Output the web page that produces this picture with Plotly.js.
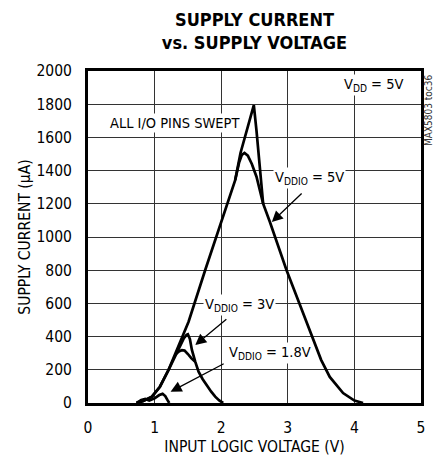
<!DOCTYPE html>
<html>
<head>
<meta charset="utf-8">
<script src="https://cdn.plot.ly/plotly-3.0.1.min.js"></script>
<style>html,body{margin:0;padding:0;background:#fff;}#chart{width:433px;height:463px;}</style>
</head>
<body>
<div id="chart"></div>
<script>
// VDDIO = 5V, outer (tall spike) sweep
var v5OuterX = [0.73, 0.83, 0.96, 1.08, 1.21, 1.36, 1.51, 1.76, 2.0, 2.21, 2.29, 2.39, 2.49, 2.53, 2.56, 2.6, 2.63, 2.73, 2.98, 3.18, 3.31, 3.36, 3.5, 3.63, 3.83, 4.0, 4.13];
var v5OuterY = [0, 12, 38, 98, 200, 340, 490, 801, 1090, 1343, 1506, 1650, 1795, 1640, 1500, 1330, 1200, 1092, 801, 594, 460, 398, 260, 157, 60, 15, 0];
// VDDIO = 5V, inner (rounded peak) sweep
var v5InnerX = [2.21, 2.27, 2.31, 2.35, 2.4, 2.46, 2.53, 2.58, 2.63];
var v5InnerY = [1343, 1450, 1495, 1506, 1490, 1440, 1363, 1290, 1200];
// VDDIO = 3V, spike sweep
var v3aX = [0.73, 0.83, 0.96, 1.08, 1.21, 1.36, 1.44, 1.48, 1.50, 1.53, 1.56, 1.61, 1.66, 1.72, 1.78, 1.85, 1.91, 1.97, 2.03];
var v3aY = [0, 12, 38, 98, 200, 330, 390, 410, 414, 385, 320, 249, 189, 145, 108, 68, 38, 15, 0];
// VDDIO = 3V, inner sweep
var v3bX = [1.32, 1.37, 1.41, 1.45, 1.50, 1.55, 1.61];
var v3bY = [295, 312, 318, 316, 295, 270, 249];
// VDDIO = 1.8V
var v18X = [0.73, 0.80, 0.86, 0.92, 1.0, 1.07, 1.12, 1.16, 1.19, 1.22];
var v18Y = [0, 18, 24, 15, 28, 48, 55, 42, 20, 0];

var xTicks = [0, 1, 2, 3, 4, 5];
var yTicks = [0, 200, 400, 600, 800, 1000, 1200, 1400, 1600, 1800, 2000];

var FONT = "'DejaVu Sans Condensed', 'Liberation Sans Narrow', sans-serif";
var lineStyle = {color: '#000', width: 2.7};

var traces = [
  {x: v5OuterX, y: v5OuterY, mode: 'lines', line: lineStyle, hoverinfo: 'skip'},
  {x: v5InnerX, y: v5InnerY, mode: 'lines', line: lineStyle, hoverinfo: 'skip'},
  {x: v3aX, y: v3aY, mode: 'lines', line: lineStyle, hoverinfo: 'skip'},
  {x: v3bX, y: v3bY, mode: 'lines', line: lineStyle, hoverinfo: 'skip'},
  {x: v18X, y: v18Y, mode: 'lines', line: lineStyle, hoverinfo: 'skip'}
];

function label(text, x, y) {
  return {text: text, x: x, y: y, xref: 'x', yref: 'y', showarrow: false,
          bgcolor: '#fff', borderpad: 1, font: {family: FONT, size: 14.5, color: '#000'}};
}
function arrow(tx, ty, hx, hy) {
  return {text: '', x: hx, y: hy, ax: tx, ay: ty, xref: 'x', yref: 'y', axref: 'x', ayref: 'y',
          showarrow: true, arrowhead: 2, arrowsize: 1.7, arrowwidth: 1.3, arrowcolor: '#000', standoff: 0};
}

var layout = {
  width: 433, height: 463,
  margin: {l: 88, r: 12, t: 71, b: 60},
  paper_bgcolor: '#fff', plot_bgcolor: '#fff',
  showlegend: false,
  font: {family: FONT, size: 15.5, color: '#000'},
  title: {
    text: 'SUPPLY CURRENT<br>vs. SUPPLY VOLTAGE',
    font: {family: FONT, size: 18, color: '#000', weight: 700},
    x: 0.5, xref: 'paper', xanchor: 'center',
    y: 1, yref: 'paper', yanchor: 'bottom',
    pad: {b: 45}
  },
  xaxis: {
    range: [0, 5], tickvals: xTicks, ticktext: xTicks.map(String),
    showgrid: true, gridcolor: '#333', gridwidth: 1, zeroline: false,
    showline: true, mirror: true, linecolor: '#000', linewidth: 3,
    ticks: '', ticklabelstandoff: 8,
    tickfont: {family: FONT, size: 15.5, color: '#000'},
    title: {text: 'INPUT LOGIC VOLTAGE (V)', font: {family: FONT, size: 15.5, color: '#000'}, standoff: 6}
  },
  yaxis: {
    range: [0, 2000], tickvals: yTicks, ticktext: yTicks.map(String),
    showgrid: true, gridcolor: '#333', gridwidth: 1, zeroline: false,
    showline: true, mirror: true, linecolor: '#000', linewidth: 3,
    ticks: '', ticklabelstandoff: 10,
    tickfont: {family: FONT, size: 15.5, color: '#000'},
    title: {text: 'SUPPLY CURRENT (µA)', font: {family: FONT, size: 15.5, color: '#000'}, standoff: 2}
  },
  annotations: [
    label('V<sub>DD</sub> = 5V', 4.29, 1916),
    label('ALL I/O PINS SWEPT', 1.31, 1687),
    label('V<sub>DDIO</sub> = 5V', 3.33, 1355),
    label('V<sub>DDIO</sub> = 3V', 2.28, 590),
    label('V<sub>DDIO</sub> = 1.8V', 2.73, 301),
    arrow(3.23, 1271, 2.76, 1090),
    arrow(2.10, 512, 1.61, 349),
    arrow(2.06, 241, 1.24, 68),
    {text: 'MAX5803 toc36', xref: 'paper', yref: 'paper', x: 1.021, y: 0.8825,
     xanchor: 'center', yanchor: 'middle', textangle: -90,
     showarrow: false, font: {family: FONT, size: 10, color: '#333'}}
  ]
};

Plotly.newPlot('chart', traces, layout, {displayModeBar: false, staticPlot: true});
</script>
</body>
</html>
